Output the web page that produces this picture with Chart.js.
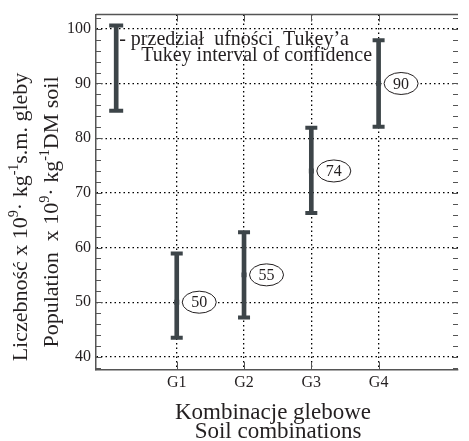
<!DOCTYPE html>
<html>
<head>
<meta charset="utf-8">
<script src="https://cdn.jsdelivr.net/npm/chart.js@4"></script>
<style>
	html, body { margin: 0; padding: 0; background: #fff; }
	#wrap { width: 469px; height: 441px; }
</style>
</head>
<body>
<div id="wrap"><canvas id="chart" width="469" height="441"></canvas></div>
<script>
// soil combinations and their Tukey confidence intervals
const categories = ['G1', 'G2', 'G3', 'G4'];
const positions = [1, 2, 3, 4];
const means = [50, 55, 74, 90];
const lower = [43.5, 47.2, 66.3, 82.1];
const upper = [58.9, 62.8, 81.9, 97.9];
const yTicks = [40, 50, 60, 70, 80, 90, 100];

// sample interval shown in the key
const keyX = 0.1;
const keyInterval = [85, 100.6];

const SERIF = '"Liberation Serif", "Times New Roman", serif';
const INK = '#231f20';
const BAR = '#3d4549';
const FRAME = '#555';

const toPoints = (vals, xs) => vals.map((v, i) => ({ x: xs[i], y: v }));

// draws "10^9 · kg^-1" style strings piece by piece
function drawRich(ctx, parts, size) {
	const supSize = Math.round(size * 0.62);
	let w = 0;
	parts.forEach((p) => {
		ctx.font = `${p.sup ? supSize : size}px ${SERIF}`;
		w += ctx.measureText(p.t).width;
	});
	let x = -w / 2;
	parts.forEach((p) => {
		ctx.font = `${p.sup ? supSize : size}px ${SERIF}`;
		ctx.fillText(p.t, x, p.sup ? -size * 0.42 : 0);
		x += ctx.measureText(p.t).width;
	});
}

const decorations = {
	id: 'decorations',
	afterDatasetsDraw(chart) {
		const { ctx, chartArea: a, scales: { x, y } } = chart;
		ctx.save();

		// value labels in ellipses
		ctx.lineWidth = 1;
		ctx.strokeStyle = INK;
		ctx.fillStyle = INK;
		ctx.textAlign = 'center';
		ctx.textBaseline = 'middle';
		ctx.font = `16px ${SERIF}`;
		means.forEach((m, i) => {
			const cx = x.getPixelForValue(positions[i]) + 22.5;
			const cy = y.getPixelForValue(m);
			ctx.beginPath();
			ctx.ellipse(cx, cy, 17, 11, 0, 0, Math.PI * 2);
			ctx.fillStyle = '#fff';
			ctx.fill();
			ctx.stroke();
			ctx.fillStyle = INK;
			ctx.fillText(String(m), cx, cy + 1);
		});

		// key text
		const kx = x.getPixelForValue(keyX);
		ctx.textAlign = 'left';
		ctx.textBaseline = 'alphabetic';
		ctx.font = `20px ${SERIF}`;
		ctx.fillText('- przedział  ufności  Tukey\u2019a', kx + 3, 45);
		ctx.fillText('Tukey interval of confidence', kx + 25, 61);

		// inward tick marks on all four sides
		ctx.strokeStyle = FRAME;
		ctx.lineWidth = 1;
		ctx.beginPath();
		for (let v = 38; v <= 102; v += 2) {
			const py = Math.round(y.getPixelForValue(v)) + 0.5;
			const len = v % 10 === 0 ? 6 : 5;
			ctx.moveTo(a.left, py);
			ctx.lineTo(a.left + len, py);
			ctx.moveTo(a.right, py);
			ctx.lineTo(a.right - len, py);
		}
		positions.forEach((p) => {
			const px = Math.round(x.getPixelForValue(p)) + 0.5;
			ctx.moveTo(px, a.bottom);
			ctx.lineTo(px, a.bottom - 8);
			ctx.moveTo(px, a.top);
			ctx.lineTo(px, a.top + 7);
		});
		ctx.stroke();

		ctx.lineWidth = 1.5;
		ctx.beginPath();
		ctx.moveTo(a.left, a.top);
		ctx.lineTo(a.right, a.top);
		ctx.stroke();

		// axis titles
		ctx.fillStyle = INK;
		ctx.font = `23px ${SERIF}`;
		ctx.textAlign = 'center';
		ctx.fillText('Kombinacje glebowe', 273, 419);
		ctx.fillText('Soil combinations', 278, 438);

		ctx.textAlign = 'left';
		ctx.save();
		ctx.translate(27, 217);
		ctx.rotate(-Math.PI / 2);
		drawRich(ctx, [
			{ t: 'Liczebność x 10' }, { t: '9', sup: true }, { t: '· kg' }, { t: '-1', sup: true }, { t: 's.m. gleby' },
		], 22);
		ctx.restore();
		ctx.save();
		ctx.translate(58, 212);
		ctx.rotate(-Math.PI / 2);
		drawRich(ctx, [
			{ t: 'Population  x 10' }, { t: '9', sup: true }, { t: '· kg' }, { t: '-1', sup: true }, { t: 'DM soil' },
		], 22);
		ctx.restore();

		ctx.restore();
	},
};

const intervalXs = [keyX, ...positions];
const intervals = intervalXs.map((px, i) => ({
	x: px,
	y: i === 0 ? keyInterval : [lower[i - 1], upper[i - 1]],
}));

new Chart(document.getElementById('chart'), {
	type: 'scatter',
	data: {
		datasets: [
			{
				type: 'bar',
				data: intervals,
				backgroundColor: BAR,
				barThickness: 4,
				borderWidth: 0,
			},
			{
				// caps of the intervals
				data: [
					...toPoints(lower, positions),
					...toPoints(upper, positions),
				],
				pointStyle: 'line',
				pointRadius: 6,
				borderColor: BAR,
				pointBorderWidth: 4,
			},
			{
				data: toPoints(keyInterval, [keyX, keyX]),
				pointStyle: 'line',
				pointRadius: 7,
				borderColor: BAR,
				pointBorderWidth: 4,
			},
			{
				// means
				data: toPoints(means, positions),
				pointStyle: 'rect',
				pointRadius: 3.5,
				backgroundColor: BAR,
				borderColor: BAR,
				borderWidth: 0,
			},
		],
	},
	options: {
		responsive: false,
		animation: false,
		events: [],
		layout: { padding: { top: 10, right: 0, left: 0, bottom: 0 } },
		plugins: { legend: { display: false }, tooltip: { enabled: false } },
		scales: {
			x: {
				type: 'linear',
				offset: false,
				min: -0.2,
				max: 5.18,
				afterBuildTicks: (s) => { s.ticks = positions.map((v) => ({ value: v })); },
				afterFit: (s) => { s.height = 71; },
				ticks: {
					callback: (v) => categories[positions.indexOf(v)] || '',
					font: { family: SERIF, size: 16 },
					color: INK,
					padding: 3,
					maxRotation: 0,
				},
				grid: { offset: false, color: '#000', lineWidth: 1.3, drawTicks: false },
				border: { color: FRAME, width: 1.5, dash: [1.5, 3] },
			},
			y: {
				min: 37.6,
				max: 102.6,
				afterBuildTicks: (s) => { s.ticks = yTicks.map((v) => ({ value: v })); },
				afterFit: (s) => { s.width = 96; },
				ticks: {
					font: { family: SERIF, size: 16 },
					color: INK,
					padding: 5,
				},
				grid: { color: '#000', lineWidth: 1.3, drawTicks: false },
				border: { color: FRAME, width: 1.5, dash: [1.5, 3] },
			},
		},
	},
	plugins: [decorations],
});
</script>
</body>
</html>
